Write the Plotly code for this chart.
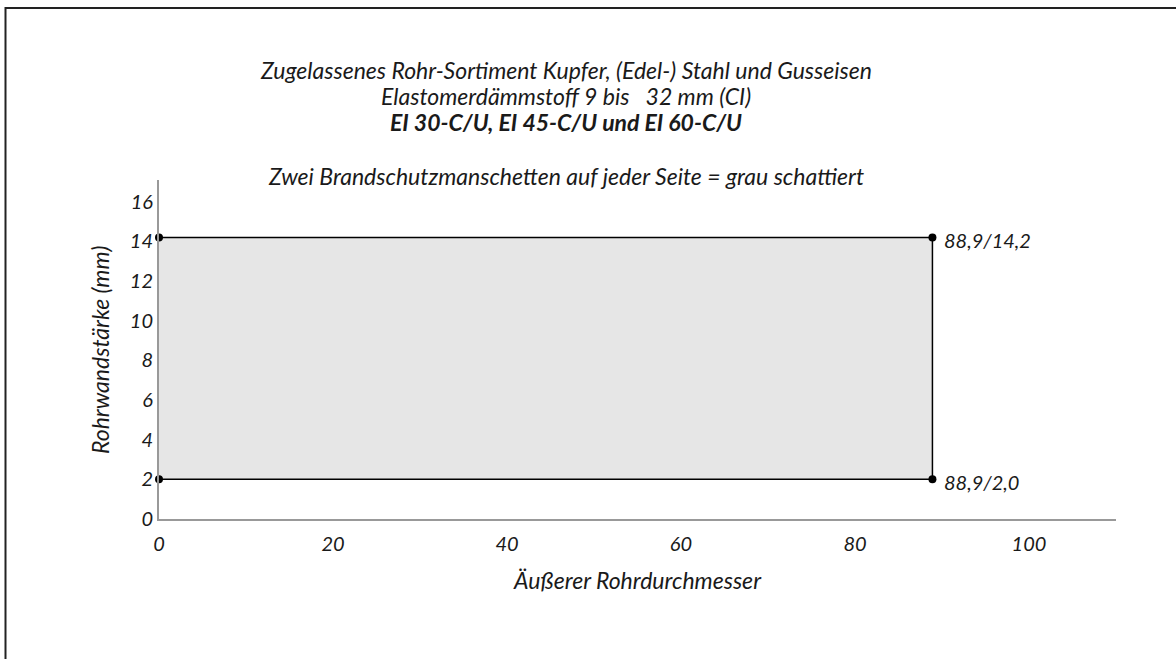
import plotly.graph_objects as go

# Data
corner_x = [0, 88.9, 88.9, 0]
corner_y = [14.2, 14.2, 2.0, 2.0]
label_points_x = [88.9, 88.9]
label_points_y = [14.2, 2.0]
label_texts = ["88,9/14,2", "88,9/2,0"]
x_ticks = [0, 20, 40, 60, 80, 100]
y_ticks = [0, 2, 4, 6, 8, 10, 12, 14, 16]

FONT = "Lato"
TXT = "#1a1a1a"

# plot area in pixels
L, R, T, B = 159, 1116, 180, 519
W, H = 1176, 659


def px(xp):
    return (xp - L) / (R - L)


def py(yp):
    return (B - yp) / (B - T)


fig = go.Figure()

# shaded area
fig.add_trace(go.Scatter(
    x=corner_x + [corner_x[0]], y=corner_y + [corner_y[0]],
    fill="toself", fillcolor="#e6e6e6", mode="none", hoverinfo="skip",
    showlegend=False))

# outline + points
fig.add_trace(go.Scatter(
    x=corner_x, y=corner_y, mode="lines+markers",
    line=dict(color="black", width=1.5),
    marker=dict(color="black", size=8),
    cliponaxis=False, showlegend=False))

for xv, yv, t in zip(label_points_x, label_points_y, label_texts):
    fig.add_annotation(x=xv, y=yv, text=t, showarrow=False, xanchor="left",
                       yanchor="middle", xshift=10, yshift=-3,
                       font=dict(family=FONT, size=20, color=TXT, style="italic"))

title_lines = [
    ("Zugelassenes Rohr-Sortiment Kupfer, (Edel-) Stahl und Gusseisen", 70, "normal"),
    ("Elastomerdämmstoff 9 bis   32 mm (CI)", 96, "normal"),
    ("EI 30-C/U, EI 45-C/U und EI 60-C/U", 122, "bold"),
    ("Zwei Brandschutzmanschetten auf jeder Seite = grau schattiert", 176, "normal"),
]
for text, ypx, weight in title_lines:
    fig.add_annotation(x=px(566), y=py(ypx), xref="paper", yref="paper",
                       text=text, showarrow=False, xanchor="center", yanchor="middle",
                       font=dict(family=FONT, size=23, color=TXT, style="italic",
                                 weight=weight))

# axis titles
fig.add_annotation(x=px(637), y=py(580), xref="paper", yref="paper",
                   text="Äußerer Rohrdurchmesser", showarrow=False,
                   xanchor="center", yanchor="middle",
                   font=dict(family=FONT, size=23, color=TXT, style="italic"))
fig.add_annotation(x=px(100), y=py(350), xref="paper", yref="paper",
                   text="Rohrwandstärke (mm)", showarrow=False, textangle=-90,
                   xanchor="center", yanchor="middle",
                   font=dict(family=FONT, size=23, color=TXT, style="italic"))

# frame (top and left visible)
fig.add_shape(type="path", xref="paper", yref="paper",
              path=f"M {px(5.5)},{py(700)} L {px(5.5)},{py(8)} L {px(1300)},{py(8)}",
              line=dict(color="#222222", width=2))

fig.update_xaxes(range=[0, 110], tickvals=x_ticks, showgrid=False, zeroline=False,
                 showline=True, linecolor="#999999", linewidth=2, ticks="",
                 ticklabelstandoff=6,
                 tickfont=dict(family=FONT, size=20, color=TXT, style="italic"))
fig.update_yaxes(range=[0, 17.1], tickvals=y_ticks, showgrid=False, zeroline=False,
                 showline=True, linecolor="#999999", linewidth=2, ticks="",
                 tickfont=dict(family=FONT, size=20, color=TXT, style="italic"))

fig.update_layout(width=W, height=H, autosize=False,
                  margin=dict(l=L, r=W - R, t=T, b=H - B),
                  plot_bgcolor="white", paper_bgcolor="white", showlegend=False)

fig.write_html("out.html", config={"displayModeBar": False},
               post_script="document.body.style.margin='0';")
